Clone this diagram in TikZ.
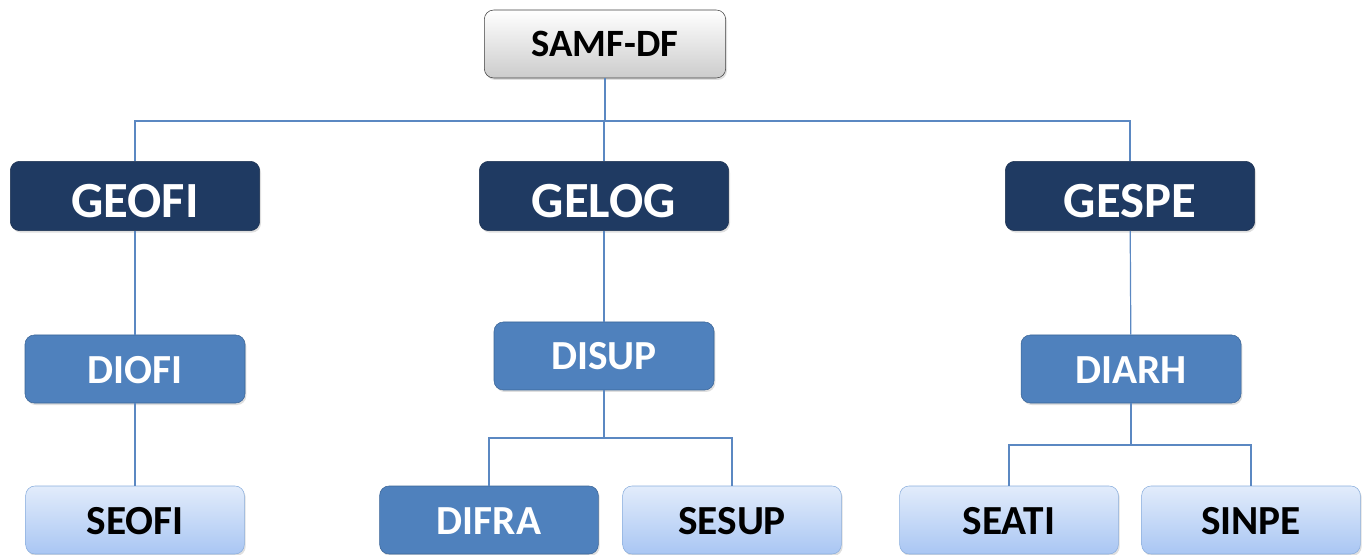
\documentclass[tikz,border=0pt]{standalone}
\usepackage{fontspec}
\setmainfont{Carlito}
\usepackage{tikz}
\usetikzlibrary{shadows}

\definecolor{navy}{HTML}{1F3A62}
\definecolor{midblue}{HTML}{4F81BD}
\definecolor{midedge}{HTML}{3B6597}
\definecolor{lighttop}{HTML}{E2ECFB}
\definecolor{lightbot}{HTML}{A9C6F3}
\definecolor{lightedge}{HTML}{8AAEDD}
\definecolor{linkblue}{HTML}{5B88C2}

\tikzset{
  orgbox/.style={rounded corners=7pt,inner sep=0pt,text depth=0pt,
    drop shadow={opacity=0.25,shadow xshift=1pt,shadow yshift=-1.5pt}},
  headbox/.style={orgbox,draw=black!75,top color=white,bottom color=black!20,
    minimum width=181pt,minimum height=51pt,text height=19pt,
    font=\bfseries\fontsize{29}{32}\selectfont},
  gerbox/.style={orgbox,draw=navy!80!black,fill=navy,text=white,
    minimum width=187pt,minimum height=52pt,text height=32pt,
    font=\bfseries\fontsize{38}{42}\selectfont},
  dirbox/.style={orgbox,draw=midedge,fill=midblue,text=white,
    minimum width=165pt,minimum height=51pt,text height=21pt,
    font=\bfseries\fontsize{31}{34}\selectfont},
  secbox/.style={orgbox,draw=lightedge,top color=lighttop,bottom color=lightbot,
    minimum width=164pt,minimum height=51pt,text height=21pt,
    font=\bfseries\fontsize{31}{34}\selectfont},
  link/.style={draw=linkblue,line width=0.9pt}
}

\begin{document}
\begin{tikzpicture}[x=0.75pt,y=-0.75pt]
\useasboundingbox (0,0) rectangle (1369,555);
%top
\node[headbox] (samf) at (605,44) {SAMF-DF};
%gerencias
\node[gerbox] (geofi) at (135,196) {GEOFI};
\node[gerbox] (gelog) at (604,196) {GELOG};
\node[gerbox] (gespe) at (1130,196) {GESPE};
%diretorias
\node[dirbox] (diofi) at (135,369) {DIOFI};
\node[dirbox] (disup) at (604,356) {DISUP};
\node[dirbox] (diarh) at (1131,369) {DIARH};
%setores
\node[secbox] (seofi) at (135,520) {SEOFI};
\node[dirbox,minimum width=164pt] (difra) at (489,520) {DIFRA};
\node[secbox] (sesup) at (732,520) {SESUP};
\node[secbox] (seati) at (1009,520) {SEATI};
\node[secbox] (sinpe) at (1251,520) {SINPE};

%bus points
\coordinate (topbus) at (605,121);
\coordinate (supbus) at (604,438);
\coordinate (arhbus) at (1131,445);

\begin{scope}[on background layer/.try]
\draw[link] (samf.south) -- (topbus);
\draw[link] (geofi.north) -- (geofi.north |- topbus) -- (gespe.north |- topbus) -- (gespe.north);
\draw[link] (gelog.north) -- (gelog.north |- topbus);
\draw[link] (geofi) -- (diofi);
\draw[link] (diofi) -- (seofi);
\draw[link] (gelog) -- (disup);
\draw[link] (disup.south) -- (supbus);
\draw[link] (difra.north) -- (difra.north |- supbus) -- (sesup.north |- supbus) -- (sesup.north);
\draw[link] (gespe) -- (diarh);
\draw[link] (diarh.south) -- (arhbus);
\draw[link] (seati.north) -- (seati.north |- arhbus) -- (sinpe.north |- arhbus) -- (sinpe.north);
\end{scope}
\end{tikzpicture}
\end{document}
